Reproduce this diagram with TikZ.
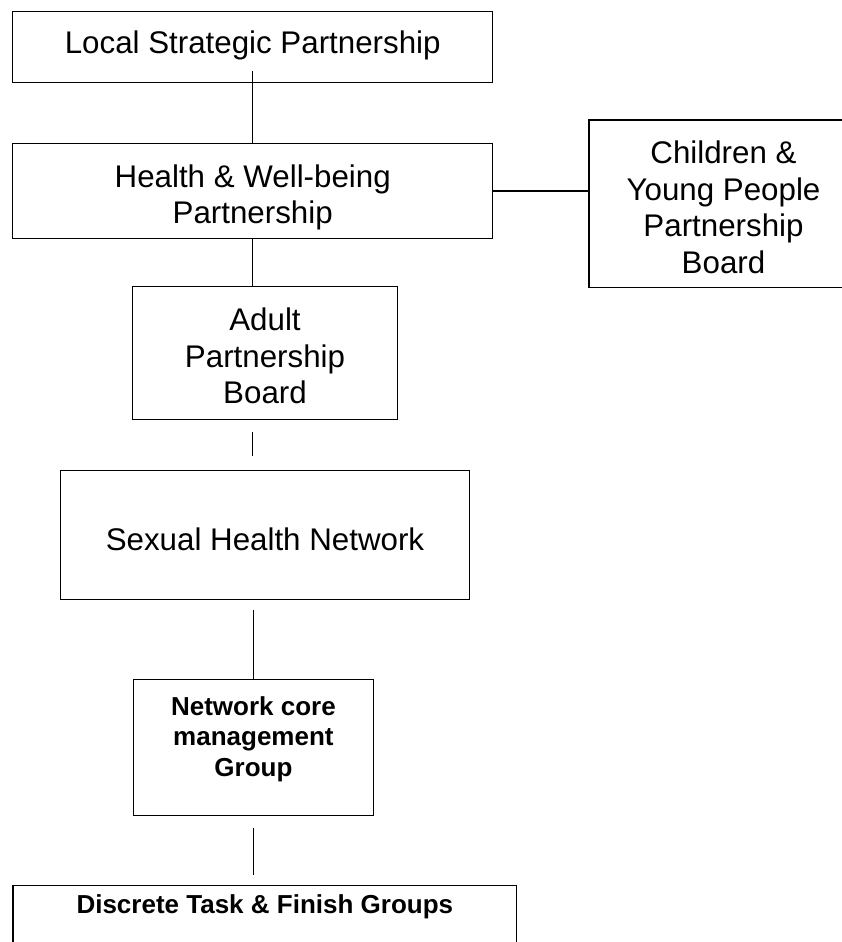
\documentclass[tikz,border=0pt]{standalone}
\usepackage{fontspec}
\setmainfont{Liberation Sans}
\tikzset{
  orgbox/.style={draw=black, line width=1.3pt, rectangle, inner sep=0pt, fill=none},
  regtext/.style={anchor=north, inner sep=0pt, align=center, font=\fontsize{31.3pt}{36.5pt}\selectfont},
  boldtext/.style={anchor=north, inner sep=0pt, align=center, font=\fontsize{26pt}{30.5pt}\selectfont\bfseries},
  conn/.style={draw=black, line width=1.3pt}
}
\begin{document}
\begin{tikzpicture}[x=1pt, y=-1pt]
\useasboundingbox (0,0) rectangle (842,942);
\fill[white] (0,0) rectangle (842,942);
% boxes
\node[orgbox, minimum width=480pt, minimum height=71pt] (lsp) at (252.7,47.2) {};
\node[orgbox, minimum width=480pt, minimum height=95.2pt] (hwb) at (252.7,190.9) {};
\node[orgbox, minimum width=269pt, minimum height=167.7pt] (cyp) at (723.5,203.85) {};
\node[orgbox, minimum width=264.6pt, minimum height=132.6pt] (apb) at (265,353) {};
\node[orgbox, minimum width=408.6pt, minimum height=128.6pt] (shn) at (265,535) {};
\node[orgbox, minimum width=240.2pt, minimum height=136pt] (ncmg) at (253.4,747.3) {};
\node[orgbox, minimum width=503.7pt, minimum height=150pt] (dtfg) at (264.85,960.7) {};
% texts
\node[regtext] (lspt) at ([yshift=-20pt]lsp.north) {Local Strategic Partnership};
\node[regtext] (hwbt) at ([yshift=-21.7pt]hwb.north) {Health \& Well-being\\Partnership};
\node[regtext] (cypt) at ([yshift=-21.7pt]cyp.north) {Children \&\\Young People\\Partnership\\Board};
\node[regtext] (apbt) at ([yshift=-21.6pt]apb.north) {Adult\\Partnership\\Board};
\node[regtext] (shnt) at ([yshift=-57.6pt]shn.north) {Sexual Health Network};
\node[boldtext] (ncmgt) at ([yshift=-17.4pt]ncmg.north) {Network core\\management\\Group};
\node[boldtext] (dtfgt) at ([yshift=-9.7pt]dtfg.north) {Discrete Task \& Finish Groups};
% connectors
\draw[conn, shorten <=-12pt] (lsp.south) -- (hwb.north);
\draw[conn] (hwb.east) -- (hwb.east -| cyp.west);
\draw[conn] (hwb.south) -- (hwb.south |- apb.north);
\draw[conn, shorten <=12.4pt, shorten >=14pt] (hwb.south |- apb.south) -- (hwb.south |- shn.north);
\draw[conn, shorten <=9.7pt] (ncmg.north |- shn.south) -- (ncmg.north);
\draw[conn, shorten <=12pt, shorten >=9.7pt] (ncmg.south) -- (ncmg.south |- dtfg.north);
\end{tikzpicture}
\end{document}
